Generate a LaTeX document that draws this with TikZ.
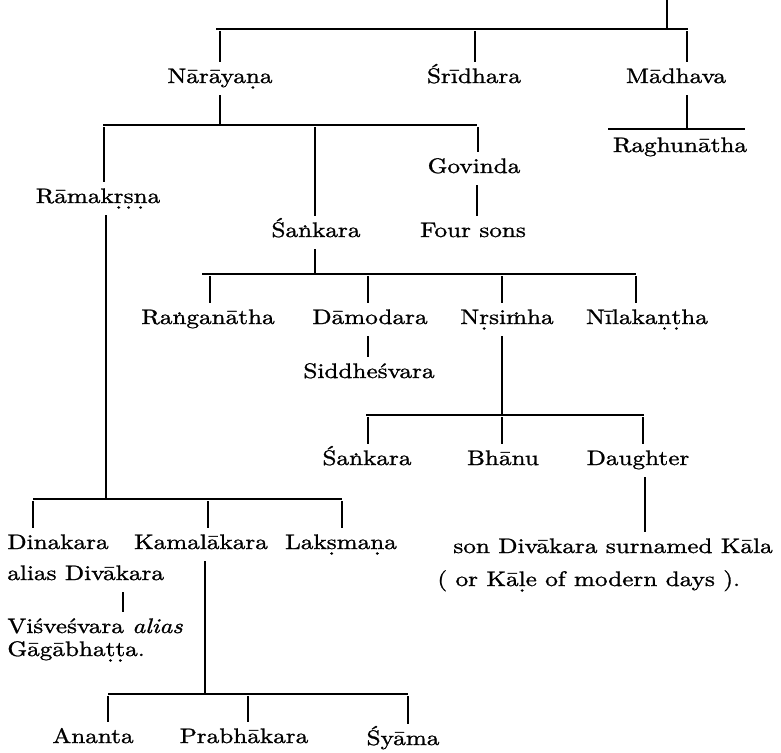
\documentclass[tikz,border=0pt]{standalone}
\usepackage{fontspec}
\setmainfont{lmroman10-regular}[Extension=.otf,ItalicFont=lmroman10-italic,BoldFont=lmroman10-bold,FakeStretch=1.2,FakeBold=1.2]
\newcommand\db[1]{\ooalign{#1\cr\hidewidth\raisebox{-0.62ex}{.}\hidewidth\cr}}
\newcommand\da[1]{\ooalign{#1\cr\hidewidth\raisebox{1.05ex}{.}\hidewidth\cr}}
\begin{document}
\begin{tikzpicture}[x=0.5pt,y=-0.5pt,
  nm/.style={inner xsep=0pt,inner ysep=2.5pt,text height=8pt,text depth=3.5pt,anchor=base,font=\fontsize{10.5}{12}\selectfont},
  nmw/.style={nm,anchor=base west},
  ln/.style={line width=0.9pt}]
\useasboundingbox (0,0) rectangle (781,752);
% ---- nodes ----
\node[nm] (nar) at (220,83) {Nārāya\db{n}a};
\node[nm] (sri) at (474,83) {Śrīdhara};
\node[nm] (mad) at (676,83) {Mādhava};
\node[nm] (rag) at (680,152) {Raghunātha};
\node[nm] (gov) at (474,173) {Govinda};
\node[nm] (ram) at (98,203) {Rāmak\db{r}\db{s}\db{n}a};
\node[nm] (san) at (316,237) {Śa\da{n}kara};
\node[nm] (four) at (473,237) {Four sons};
\node[nm] (rang) at (208,324) {Ra\da{n}ganātha};
\node[nm] (dam) at (370,324) {Dāmodara};
\node[nm] (nrs) at (507,324) {N\db{r}si\da{m}ha};
\node[nm] (nil) at (647,324) {Nīlaka\db{n}\db{t}ha};
\node[nm] (sid) at (369,378) {Siddheśvara};
\node[nm] (sank) at (367,465) {Śa\da{n}kara};
\node[nm] (bha) at (503,465) {Bhānu};
\node[nm] (dau) at (638,465) {Daughter};
\node[nmw] (son) at (453,553) {son Divākara surnamed Kāla};
\node[nmw] (kale) at (437,586) {( or Kā\db{l}e of modern days ).};
\node[nmw] (din) at (7,549) {Dinakara};
\node[nmw] (alias) at (7,580) {alias Divākara};
\node[nm] (kam) at (201,549) {Kamalākara};
\node[nm] (lak) at (341,549) {Lak\db{s}ma\db{n}a};
\node[nmw] (vis) at (7,633) {Viśveśvara \textit{alias}};
\node[nmw] (gag) at (7,656) {Gāgābha\db{t}\db{t}a.};
\node[nm] (ana) at (93,743) {Ananta};
\node[nm] (pra) at (244,743) {Prabhākara};
\node[nm] (sya) at (403,745) {Śyāma};
% ---- top level ----
\coordinate (top) at (667,0);
\coordinate (t1) at (667,28);
\draw[ln] (top) -- (t1);
\coordinate (b1l) at (216,29); \coordinate (b1r) at (688,29);
\draw[ln] (b1l) -- (b1r);
\coordinate (d1a) at (220,31); \draw[ln] (d1a) -- (d1a |- nar.north);
\coordinate (d1b) at (475,31); \draw[ln] (d1b) -- (d1b |- sri.north);
\coordinate (d1c) at (687,31); \draw[ln] (d1c) -- (d1c |- mad.north);
% Madhava -> Raghunatha
\coordinate (m2) at (687,128);
\draw[ln] (m2 |- mad.south) -- (m2);
\coordinate (oll) at (608,129); \coordinate (olr) at (745,129);
\draw[ln] (oll) -- (olr);
% Narayana's sons
\coordinate (b2m) at (220,125);
\draw[ln] (b2m |- nar.south) -- (b2m);
\coordinate (b2l) at (103,125); \coordinate (b2r) at (477,125);
\draw[ln] (b2l) -- (b2r);
\coordinate (d2a) at (104,127); \draw[ln] (d2a) -- (d2a |- ram.north);
\coordinate (d2b) at (315,127); \draw[ln] (d2b) -- (d2b |- san.north);
\coordinate (d2c) at (478,127); \draw[ln] (d2c) -- (d2c |- gov.north);
% Govinda -> Four sons
\coordinate (g) at (477,200);
\draw[ln] (g |- gov.south) -- (g |- four.north);
% Sankara's sons
\coordinate (b3m) at (315,274);
\draw[ln] (b3m |- san.south) -- (b3m);
\coordinate (b3l) at (202,274); \coordinate (b3r) at (636,274);
\draw[ln] (b3l) -- (b3r);
\coordinate (d3a) at (210,276); \draw[ln] (d3a) -- (d3a |- rang.north);
\coordinate (d3b) at (368,276); \draw[ln] (d3b) -- (d3b |- dam.north);
\coordinate (d3c) at (502,276); \draw[ln] (d3c) -- (d3c |- nrs.north);
\coordinate (d3d) at (636,276); \draw[ln] (d3d) -- (d3d |- nil.north);
% Damodara -> Siddhesvara
\coordinate (dd) at (368,345);
\draw[ln] (dd |- dam.south) -- (dd |- sid.north);
% Nrsimha's children
\coordinate (b4m) at (502,415);
\draw[ln] (b4m |- nrs.south) -- (b4m);
\coordinate (b4l) at (366,415); \coordinate (b4r) at (644,415);
\draw[ln] (b4l) -- (b4r);
\coordinate (d4a) at (368,417); \draw[ln] (d4a) -- (d4a |- sank.north);
\coordinate (d4b) at (502,417); \draw[ln] (d4b) -- (d4b |- bha.north);
\coordinate (d4c) at (643,417); \draw[ln] (d4c) -- (d4c |- dau.north);
% Daughter -> son
\coordinate (dg) at (645,500);
\draw[ln] (dg |- dau.south) -- (dg |- son.north);
% Ramakrsna's sons
\coordinate (b5m) at (106,499);
\draw[ln] (b5m |- ram.south) -- (b5m);
\coordinate (b5l) at (33,499); \coordinate (b5r) at (342,499);
\draw[ln] (b5l) -- (b5r);
\coordinate (d5a) at (33,501); \draw[ln] (d5a) -- (d5a |- din.north);
\coordinate (d5b) at (208,501); \draw[ln] (d5b) -- (d5b |- kam.north);
\coordinate (d5c) at (342,501); \draw[ln] (d5c) -- (d5c |- lak.north);
% Dinakara -> Visvesvara
\coordinate (al) at (123,600);
\draw[ln] (al |- alias.south) -- (al |- vis.north);
% Kamalakara's sons
\coordinate (b6m) at (205,694);
\draw[ln] (b6m |- kam.south) -- (b6m);
\coordinate (b6l) at (108,694); \coordinate (b6r) at (408,694);
\draw[ln] (b6l) -- (b6r);
\coordinate (d6a) at (108,696); \draw[ln] (d6a) -- (d6a |- ana.north);
\coordinate (d6b) at (248,696); \draw[ln] (d6b) -- (d6b |- pra.north);
\coordinate (d6c) at (408,696); \draw[ln] (d6c) -- (d6c |- sya.north);
\end{tikzpicture}
\end{document}
